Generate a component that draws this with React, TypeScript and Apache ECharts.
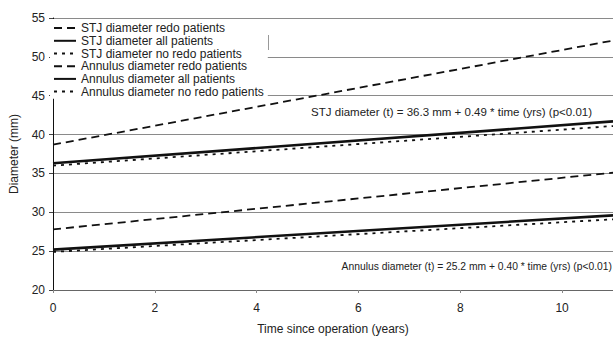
import React, { useEffect, useRef } from "react";
import * as echarts from "echarts";

const seriesNames = [
  "STJ diameter redo patients",
  "STJ diameter all patients",
  "STJ diameter no redo patients",
  "Annulus diameter redo patients",
  "Annulus diameter all patients",
  "Annulus diameter no redo patients",
];
const timeYears = [0, 11];
const stjRedo = [38.7, 52.1];
const stjAll = [36.3, 41.7];
const stjNoRedo = [36.0, 41.1];
const annRedo = [27.8, 35.1];
const annAll = [25.2, 29.6];
const annNoRedo = [24.9, 29.1];
const stjFormula = "STJ diameter (t) = 36.3 mm + 0.49 * time (yrs) (p<0.01)";
const annFormula = "Annulus diameter (t) = 25.2 mm + 0.40 * time (yrs) (p<0.01)";

const FONT = "Liberation Sans, Arial, sans-serif";

export default function App() {
  const ref = useRef<HTMLDivElement>(null);
  useEffect(() => {
    if (!ref.current) return;
    const chart = echarts.init(ref.current, undefined, { renderer: "svg" });
    const values = [stjRedo, stjAll, stjNoRedo, annRedo, annAll, annNoRedo];
    const styles = [
      { type: [8, 5], width: 1.8 },
      { type: "solid", width: 2.6 },
      { type: [3, 5], width: 1.8 },
      { type: [8, 5], width: 1.8 },
      { type: "solid", width: 2.6 },
      { type: [3, 5], width: 1.8 },
    ];
    chart.setOption({
      animation: false,
      textStyle: { fontFamily: FONT },
      grid: { left: 50, top: 18, bottom: 42, right: -4, containLabel: false },
      legend: {
        orient: "vertical",
        left: 50,
        top: 19,
        padding: [3, 4, 1, 3],
        itemGap: 0.5,
        itemWidth: 22,
        itemHeight: 12.2,
        backgroundColor: "#fff",
        borderWidth: 0,
        itemStyle: { color: "rgba(0,0,0,0)", borderWidth: 0 },
        textStyle: { fontSize: 12, lineHeight: 12.2, color: "#222", fontFamily: FONT },
        data: seriesNames,
      },
      xAxis: {
        type: "value",
        min: 0,
        max: 11,
        interval: 2,
        name: "Time since operation (years)",
        nameLocation: "middle",
        nameGap: 33,
        nameTextStyle: { fontSize: 12, color: "#222" },
        axisLine: { lineStyle: { color: "#666", width: 1 } },
        axisTick: { show: true, length: 3, inside: false, lineStyle: { color: "#888" } },
        axisLabel: { fontSize: 12, color: "#222", margin: 12, showMaxLabel: false },
        splitLine: { show: false },
      },
      yAxis: {
        type: "value",
        min: 20,
        max: 55,
        interval: 5,
        name: "Diameter (mm)",
        nameLocation: "middle",
        nameGap: 33,
        nameTextStyle: { fontSize: 12, color: "#222" },
        axisLine: { show: true, lineStyle: { color: "#111", width: 1 } },
        axisTick: { show: true, length: 4, lineStyle: { color: "#444" } },
        axisLabel: { fontSize: 12, color: "#222", margin: 8 },
        splitLine: { show: true, lineStyle: { color: "#8a8a8a", width: 1 } },
      },
      graphic: [
        {
          type: "text",
          right: 21,
          top: 106,
          z: 10,
          style: { text: stjFormula, fontSize: 11.5, fill: "#222", fontFamily: FONT },
        },
        {
          type: "text",
          right: 1,
          top: 261,
          z: 10,
          style: { text: annFormula, fontSize: 10.3, fill: "#222", fontFamily: FONT },
        },
        {
          type: "line",
          z: 10,
          shape: { x1: 268.5, y1: 35, x2: 268.5, y2: 50 },
          style: { stroke: "#999", lineWidth: 1 },
        },
      ],
      series: seriesNames.map((name, i) => ({
        name,
        type: "line",
        symbol: "none",
        data: timeYears.map((t, j) => [t, values[i][j]]),
        lineStyle: { color: "#111", type: styles[i].type, width: styles[i].width },
        itemStyle: { color: "#111" },
        z: 3,
      })),
    });
    return () => chart.dispose();
  }, []);
  return <div ref={ref} style={{ width: 613, height: 340, position: "absolute", left: 0, top: 0 }} />;
}
